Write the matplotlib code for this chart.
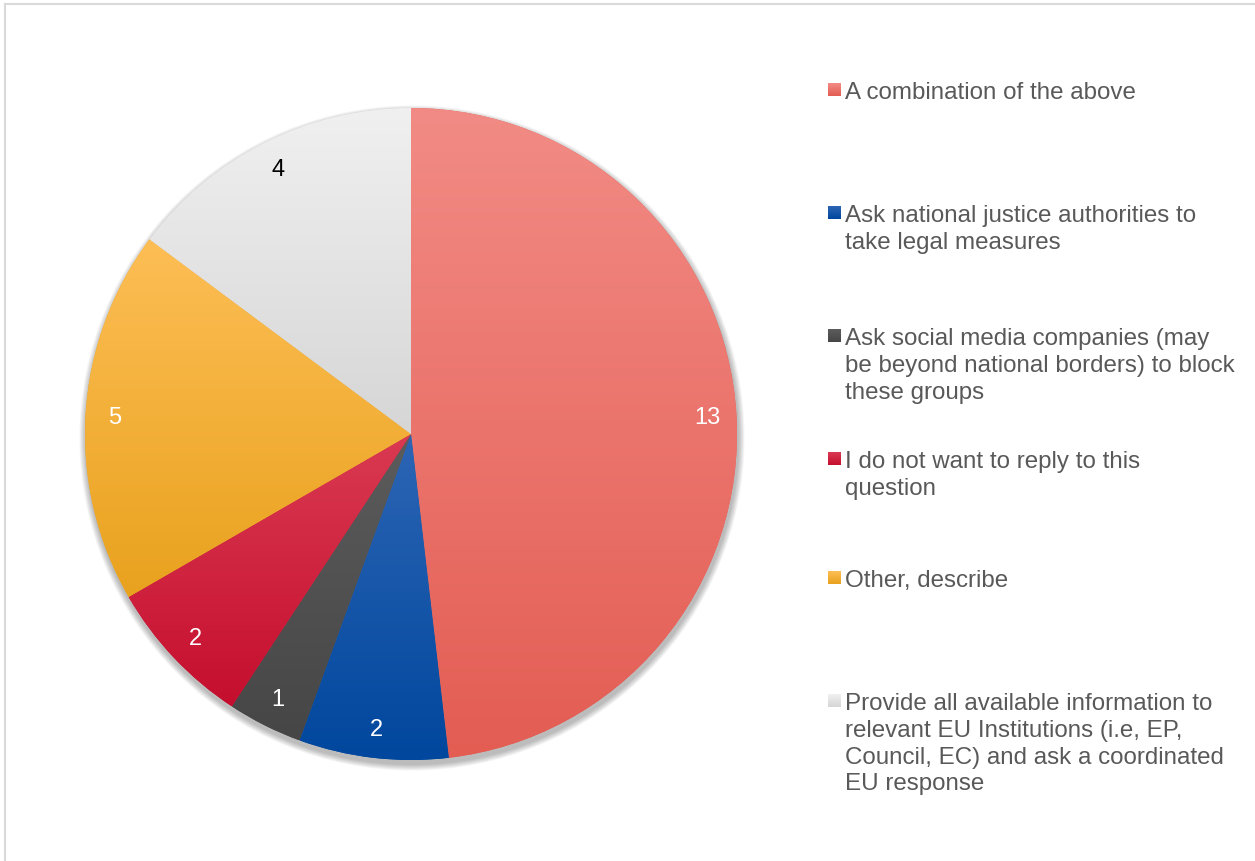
import matplotlib.pyplot as plt
import numpy as np
from matplotlib.patches import Circle
from matplotlib.colors import to_rgb

plt.rcParams['font.family'] = ['Liberation Sans', 'DejaVu Sans']

# data
labels = [
    'A combination of the above',
    'Ask national justice authorities to\ntake legal measures',
    'Ask social media companies (may\nbe beyond national borders) to block\nthese groups',
    'I do not want to reply to this\nquestion',
    'Other, describe',
    'Provide all available information to\nrelevant EU Institutions (i.e, EP,\nCouncil, EC) and ask a coordinated\nEU response',
]
values = [13, 2, 1, 2, 5, 4]
top_colors = ['#F28B85', '#2D65B5', '#5C5C5C', '#DA3A52', '#FDBE55', '#F0F0F0']
bottom_colors = ['#E35D53', '#00479D', '#464646', '#C50E2E', '#E9A21E', '#D6D6D6']
value_colors = ['white', 'white', 'white', 'white', 'white', 'black']

W, H = 1255, 862
fig = plt.figure(figsize=(W / 100, H / 100), dpi=100)
ax = fig.add_axes([0, 0, 1, 1])

cx, cy, R = 411, H - 435, 326

# soft shadow
for k in range(8):
    ax.add_patch(Circle((cx + 1, cy - 4), R + 1 + k * 0.8, color='black',
                        alpha=0.035, lw=0, zorder=0))

wedges, _ = ax.pie(values, center=(cx, cy), radius=R, startangle=90,
                   counterclock=False, colors=bottom_colors,
                   wedgeprops=dict(linewidth=0))

# vertical gradient fill in each slice
for w, c_top, c_bot in zip(wedges, top_colors, bottom_colors):
    w.set_zorder(1)
    th = np.radians(np.linspace(w.theta1, w.theta2, 200))
    xs = np.concatenate([[cx], cx + R * np.cos(th)])
    ys = np.concatenate([[cy], cy + R * np.sin(th)])
    t = np.linspace(0, 1, 256)[:, None]
    grad = (1 - t) * np.array(to_rgb(c_bot)) + t * np.array(to_rgb(c_top))
    im = ax.imshow(grad[:, None, :], extent=[xs.min(), xs.max(), ys.min(), ys.max()],
                   origin='lower', aspect='auto', zorder=2, interpolation='bilinear')
    im.set_clip_path(w)

# value labels
for w, v, col in zip(wedges, values, value_colors):
    mid = np.radians((w.theta1 + w.theta2) / 2)
    ax.text(cx + 0.91 * R * np.cos(mid), cy + 0.91 * R * np.sin(mid), str(v),
            ha='center', va='center', fontsize=17, color=col, zorder=5)

# legend
legend_y = [90, 213, 336, 459, 578, 701]
for lab, y, ct, cb in zip(labels, legend_y, top_colors, bottom_colors):
    t = np.linspace(0, 1, 32)[:, None]
    grad = (1 - t) * np.array(to_rgb(cb)) + t * np.array(to_rgb(ct))
    ax.imshow(grad[:, None, :], extent=[828, 841, H - y - 6.5, H - y + 6.5],
              origin='lower', aspect='auto', zorder=5)
    ax.text(845, H - y + 8, lab, ha='left', va='top', fontsize=17.4,
            color='#595959', linespacing=1.28, zorder=5)

# chart frame
ax.plot([5, 5], [0, H - 5], color='#D9D9D9', lw=1.5, zorder=6)
ax.plot([5, W], [H - 5, H - 5], color='#D9D9D9', lw=1.5, zorder=6)

ax.set_xlim(0, W)
ax.set_ylim(0, H)
ax.set_aspect('auto')
ax.axis('off')

fig.savefig('out.png', dpi=100)
